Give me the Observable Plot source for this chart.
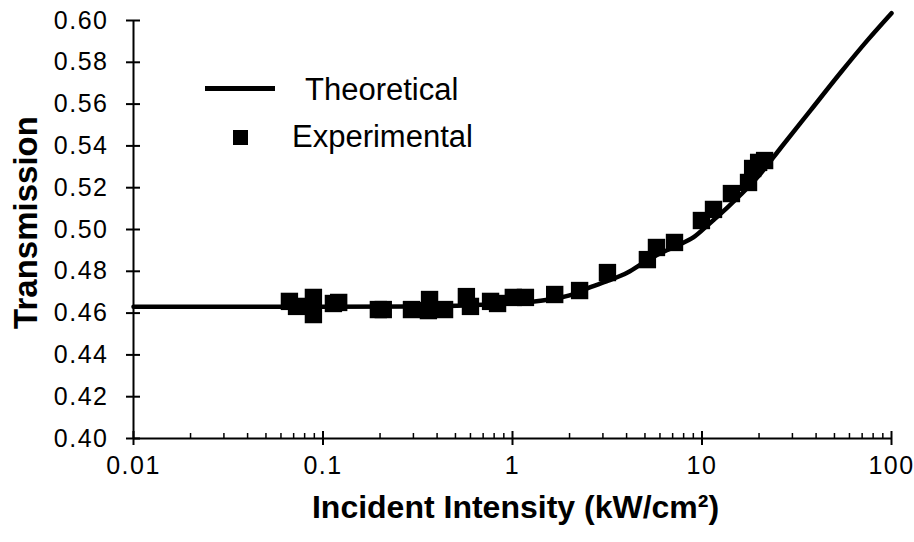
<!DOCTYPE html>
<html><head><meta charset="utf-8">
<script src="https://cdn.jsdelivr.net/npm/d3@7"></script>
<script src="https://cdn.jsdelivr.net/npm/@observablehq/plot@0.6"></script>
<style>
body{margin:0;background:#fff;}
#wrap{position:relative;width:914px;height:542px;font-family:'Liberation Sans',Arial,sans-serif;color:#000;}
#wrap svg text{font-family:'Liberation Sans',Arial,sans-serif;}
g[aria-label="x-axis tick label"] text, g[aria-label="y-axis tick label"] text{letter-spacing:1.5px;}
.leg{position:absolute;font-size:31px;line-height:30px;white-space:nowrap;}
</style></head><body><div id="wrap"></div>
<script>
// Theoretical curve (intensity kW/cm², transmission)
const theoryI = [0.01, 0.1, 0.3, 0.6, 1.0, 1.5, 2.0, 2.6, 3.2, 4.05, 5.0, 6.0, 7.5, 9.0, 11.0, 13.6, 17.0, 20.4, 26, 37.4, 53.8, 74.6, 100];
const theoryT = [0.463, 0.463, 0.4632, 0.4638, 0.4648, 0.4663, 0.4685, 0.4725, 0.4755, 0.4794, 0.4845, 0.4885, 0.4925, 0.4962, 0.503, 0.5105, 0.519, 0.5268, 0.539, 0.557, 0.575, 0.5905, 0.6035];
// Experimental points
const expI = [0.0665, 0.0725, 0.089, 0.089, 0.1135, 0.121, 0.196, 0.208, 0.293, 0.365, 0.36, 0.438, 0.571, 0.60, 0.766, 0.834, 1.01, 1.17, 1.67, 2.26, 3.17, 5.15, 5.75, 7.16, 9.93, 11.5, 14.3, 17.6, 18.5, 19.9, 21.4];
const expT = [0.4656, 0.4632, 0.4675, 0.4593, 0.4646, 0.4651, 0.4617, 0.4617, 0.4617, 0.4665, 0.4612, 0.4617, 0.4679, 0.4632, 0.4656, 0.4646, 0.4675, 0.4675, 0.4689, 0.4708, 0.4794, 0.4856, 0.4914, 0.4938, 0.5043, 0.5096, 0.5172, 0.5225, 0.5292, 0.5321, 0.533];
// Axis ticks
const xMajor = [0.01, 0.1, 1, 10, 100];
const xTickLabels = ["0.01", "0.1", "1", "10", "100"];
const yTicks = [0.40, 0.42, 0.44, 0.46, 0.48, 0.50, 0.52, 0.54, 0.56, 0.58, 0.60];
const yTickLabels = ["0.40", "0.42", "0.44", "0.46", "0.48", "0.50", "0.52", "0.54", "0.56", "0.58", "0.60"];
const minorMult = [2, 3, 4, 5, 6, 7, 8, 9];
const xLabel = "Incident Intensity (kW/cm²)";
const yLabel = "Transmission";
const legendLabels = ["Theoretical", "Experimental"];

const xMinor = xMajor.slice(0, -1).flatMap(d => minorMult.map(m => d * m));
const theory = theoryI.map((x, i) => ({x, y: theoryT[i]}));
const exp = expI.map((x, i) => ({x, y: expT[i]}));

const plot = Plot.plot({
  width: 914, height: 542,
  marginLeft: 133, marginRight: 23, marginTop: 20, marginBottom: 104,
  style: {fontFamily: "'Liberation Sans', Arial, sans-serif", background: "#fff", color: "#000", overflow: "visible"},
  x: {type: "log", domain: [0.01, 100], label: null},
  y: {domain: [0.40, 0.60], label: null},
  marks: [
    Plot.ruleY([0.40], {strokeWidth: 2}),
    Plot.ruleX([0.01], {strokeWidth: 2}),
    Plot.axisX(xMinor, {tickSize: 5, dy: -5, tickFormat: () => "", strokeWidth: 1.5, label: null}),
    Plot.axisX(xMajor, {tickSize: 14, dy: -7, tickFormat: () => "", strokeWidth: 2, label: null}),
    Plot.axisX(xMajor, {tickSize: 0, tickPadding: 18, tickFormat: d => xTickLabels[xMajor.indexOf(d)], fontSize: 25, label: null}),
    Plot.axisY(yTicks, {tickSize: 14, dx: 7, tickFormat: () => "", strokeWidth: 2, label: null}),
    Plot.axisY(yTicks, {tickSize: 0, tickPadding: 25, tickFormat: d => yTickLabels[yTicks.indexOf(d)], fontSize: 25, label: null}),
    Plot.line(theory, {x: "x", y: "y", stroke: "#000", strokeWidth: 4.5, curve: "monotone-x"}),
    Plot.dot(exp, {x: "x", y: "y", symbol: "square", r: 9.8, fill: "#000", stroke: "none"}),
    Plot.text([yLabel], {text: d => d, frameAnchor: "left", textAnchor: "middle", lineAnchor: "middle", dx: -107, dy: -7, rotate: -90, fontSize: 33, fontWeight: "bold"}),
    Plot.text([xLabel], {text: d => d, frameAnchor: "bottom", textAnchor: "middle", lineAnchor: "middle", dx: 3, dy: 69, fontSize: 32, fontWeight: "bold"})
  ]
});
const wrap = document.getElementById("wrap");
wrap.appendChild(plot);

// Legend (HTML overlay)
function addDiv(css, text) {
  const d = document.createElement("div");
  d.className = "leg";
  Object.assign(d.style, css);
  if (text) d.textContent = text;
  wrap.appendChild(d);
}
addDiv({left: "205px", top: "86px", width: "70px", height: "5px", background: "#000"});
addDiv({left: "305px", top: "75px"}, legendLabels[0]);
addDiv({left: "233px", top: "130px", width: "15px", height: "15px", background: "#000"});
addDiv({left: "292px", top: "122px"}, legendLabels[1]);
</script></body></html>
